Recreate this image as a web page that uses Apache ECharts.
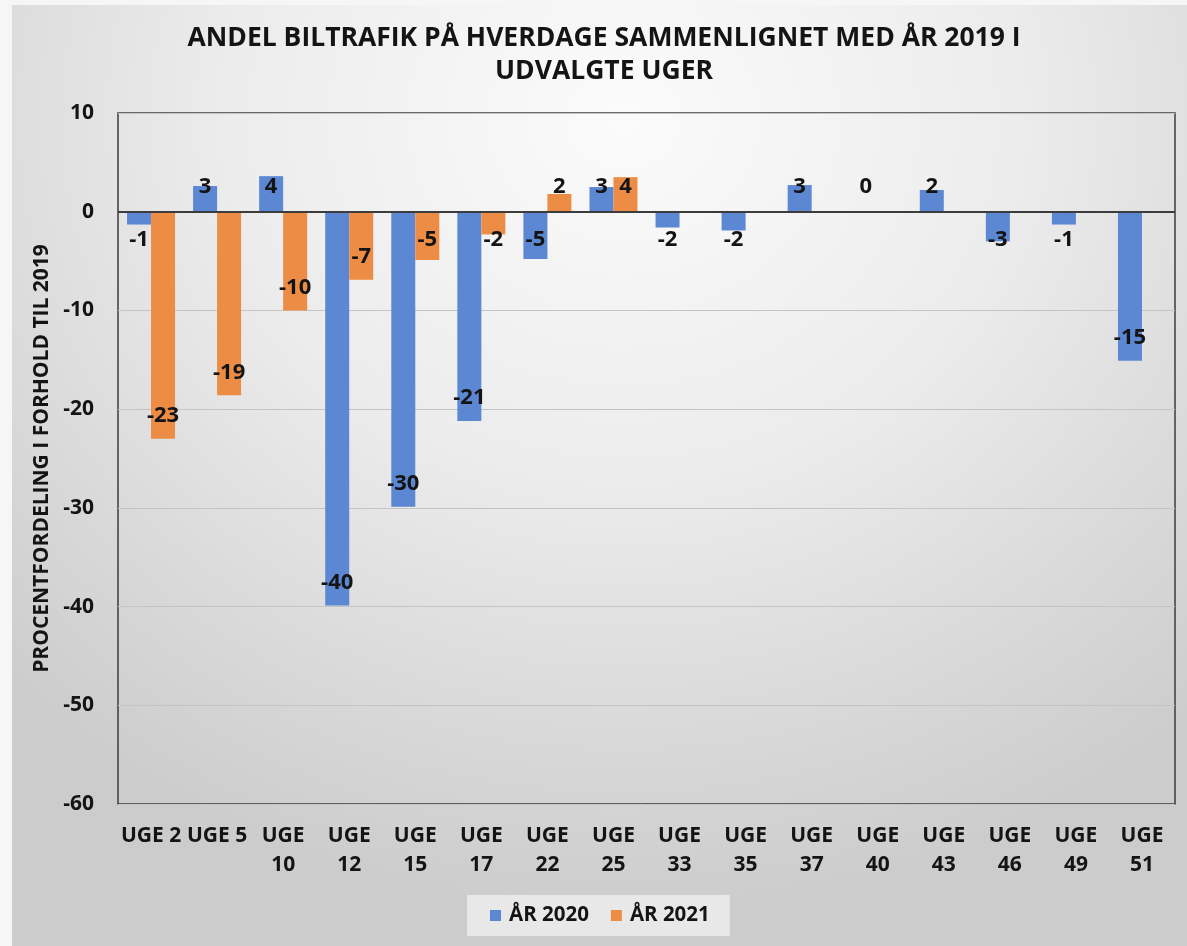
<!DOCTYPE html>
<html>
<head>
<meta charset="utf-8">
<script src="https://cdn.jsdelivr.net/npm/echarts@6/dist/echarts.min.js"></script>
<style>
  html, body { margin: 0; padding: 0; width: 1187px; height: 946px; background: #f6f6f6; overflow: hidden; }
  #bg { position: absolute; left: 12px; top: 5px; right: 0; bottom: 0;
        background: radial-gradient(ellipse 75% 85% at 52% 12%, #fbfbfb 0%, #ececec 45%, #dadada 75%, #cccccc 100%); }
  #main { position: absolute; left: 0; top: 0; width: 1187px; height: 946px; }
</style>
</head>
<body>
<div id="bg"></div>
<div id="main"></div>
<script>
const titleText = 'ANDEL BILTRAFIK PÅ HVERDAGE SAMMENLIGNET MED ÅR 2019 I\nUDVALGTE UGER';
const yAxisName = 'PROCENTFORDELING I FORHOLD TIL 2019';
const categories = ['UGE 2','UGE 5','UGE 10','UGE 12','UGE 15','UGE 17','UGE 22','UGE 25','UGE 33','UGE 35','UGE 37','UGE 40','UGE 43','UGE 46','UGE 49','UGE 51'];
const seriesNames = ['ÅR 2020', 'ÅR 2021'];
const values2020 = [-1.3, 2.6, 3.6, -39.9, -29.9, -21.2, -4.8, 2.5, -1.6, -1.9, 2.7, 0, 2.2, -3.0, -1.3, -15.1];
const values2021 = [-23.0, -18.6, -10.0, -6.9, -4.9, -2.3, 1.8, 3.5, null, null, null, null, null, null, null, null];
const yMin = -60, yMax = 10, yStep = 10;

const FONT = 'Open Sans';
const TXT = '#141414';
const allValues = [values2020, values2021];

const chart = echarts.init(document.getElementById('main'), null, { renderer: 'canvas' });

function labelPos(params) {
  const v = allValues[params.seriesIndex][params.dataIndex];
  const r = params.rect;
  const cx = r.x + r.width / 2;
  let y;
  if (v < 0) {
    const zeroY = r.y, bottom = r.y + r.height;
    y = Math.max(bottom - 23, zeroY + 28);
  } else {
    const zeroY = r.y + r.height, top = r.y;
    y = Math.min(top + 23, zeroY - 25);
  }
  return { x: cx, y: y, align: 'center', verticalAlign: 'middle' };
}

const labelCfg = {
  show: true,
  position: 'inside',
  color: TXT,
  fontFamily: FONT,
  fontWeight: 'bold',
  fontSize: 22,
  formatter: p => (p.value === null || p.value === undefined) ? '' : String(Math.round(p.value))
};

chart.setOption({
  backgroundColor: 'transparent',
  animation: false,
  title: {
    text: titleText,
    left: 599,
    top: 17,
    textAlign: 'center',
    textStyle: { fontFamily: FONT, fontWeight: 'bold', fontSize: 26.5, color: TXT, lineHeight: 33 }
  },
  legend: {
    data: seriesNames,
    left: 467,
    top: 895,
    padding: [10, 20, 10, 23],
    backgroundColor: '#e8e8e8',
    itemGap: 22,
    itemWidth: 11,
    itemHeight: 11,
    icon: 'rect',
    textStyle: { fontFamily: FONT, fontWeight: 'bold', fontSize: 20.5, color: TXT, padding: [0, 0, 0, 3] }
  },
  grid: {
    left: 118, right: 12, top: 113, bottom: 142,
    show: true, borderColor: '#3c3c3c', borderWidth: 1.5, backgroundColor: 'transparent'
  },
  xAxis: {
    type: 'category',
    data: categories,
    axisLine: { show: false, onZero: false },
    axisTick: { show: false },
    axisLabel: {
      interval: 0, margin: 18,
      fontFamily: FONT, fontWeight: 'bold', fontSize: 21, color: TXT, lineHeight: 29,
      formatter: s => s.length > 5 ? s.replace(' ', '\n') : s
    }
  },
  yAxis: {
    type: 'value',
    min: yMin, max: yMax, interval: yStep,
    name: yAxisName,
    nameLocation: 'middle',
    nameRotate: 90,
    nameGap: 62,
    nameTextStyle: { fontFamily: FONT, fontWeight: 'bold', fontSize: 21, color: TXT },
    axisLine: { show: false },
    axisTick: { show: false },
    splitLine: { lineStyle: { color: '#c4c4c4', width: 1 } },
    axisLabel: { margin: 24, fontFamily: FONT, fontWeight: 'bold', fontSize: 21, color: TXT }
  },
  series: [
    {
      name: seriesNames[0], type: 'bar', data: values2020,
      barWidth: 24, barGap: '0%',
      itemStyle: { color: '#5b87d3' },
      label: labelCfg,
      labelLayout: labelPos,
      markLine: {
        silent: true, symbol: 'none', label: { show: false },
        lineStyle: { color: '#3c3c3c', width: 2, type: 'solid' },
        data: [{ yAxis: 0 }]
      }
    },
    {
      name: seriesNames[1], type: 'bar', data: values2021,
      barWidth: 24, barGap: '0%',
      itemStyle: { color: '#ed8c45' },
      label: labelCfg,
      labelLayout: labelPos
    }
  ]
});
</script>
</body>
</html>
